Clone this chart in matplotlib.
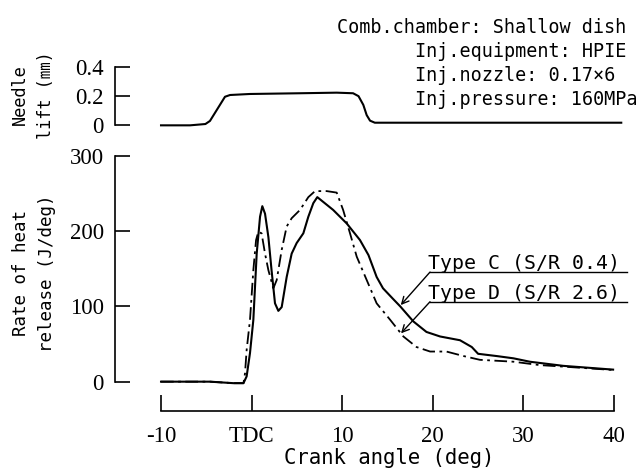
import matplotlib
matplotlib.use("Agg")
import matplotlib.pyplot as plt

# needle lift (mm) vs crank angle
lift_deg = [-10, -6.8, -5.1, -4.6, -3.85, -3.3, -2.94, -2.38, -0.18, 5.34, 9.39,
            11.2, 11.8, 12.33, 12.7, 13.07, 13.6, 16.4, 40.8]
lift_mm = [0, 0, 0.009, 0.03, 0.105, 0.16, 0.196, 0.208, 0.215, 0.22, 0.224,
           0.22, 0.20, 0.14, 0.07, 0.032, 0.018, 0.018, 0.018]

# rate of heat release, Type C (S/R 0.4), solid
rhr_c_deg = [-10, -4.6, -2.0, -0.9, -0.55, -0.18, 0.19, 0.56, 0.93, 1.18, 1.48, 1.85,
             2.2, 2.58, 2.95, 3.32, 3.87, 4.42, 4.97, 5.71, 6.26, 6.81, 7.25, 9.0,
             10.5, 11.96, 12.9, 13.8, 14.5, 15.6, 16.4, 17.85, 19.3, 20.8, 23.0,
             24.3, 25.0, 27.05, 28.9, 30.7, 34.4, 39.9]
rhr_c = [0, 0, -2, -2, 7, 38, 82, 170, 219, 233, 223, 192,
         148, 104, 94, 99, 139, 170, 184, 197, 219, 237, 245, 228,
         210, 188, 168, 139, 124, 110, 100, 80, 66, 60, 55,
         46, 37, 34, 31, 26.5, 21, 16]

# rate of heat release, Type D (S/R 2.6), dash-dot
rhr_d_deg = [-10, -4.6, -2.0, -0.9, -0.73, -0.55, -0.18, 0.19, 0.49, 0.74, 1.1, 1.48,
             1.85, 2.4, 2.77, 3.32, 3.87, 4.42, 5.34, 6.26, 7.0, 8.29, 9.39, 10.1,
             10.86, 11.6, 12.7, 13.8, 15.3, 16.75, 18.2, 19.7, 21.5, 23.4, 25.2,
             28.9, 31.8, 34.4, 39.9]
rhr_d = [0, 0, -2, -2, 11, 42, 82, 148, 188, 199, 197, 170,
         148, 124, 135, 175, 206, 217, 228, 245, 253, 253, 251, 228,
         197, 166, 135, 104, 82, 60, 46, 40, 40, 34, 29,
         26.5, 22, 20, 15.5]

x_ticks = [-10, 0, 10, 20, 30, 40]
x_labels = ["-10", "TDC", "10", "20", "30", "40"]
rhr_ticks = [0, 100, 200, 300]
lift_ticks = [0, 0.2, 0.4]
lift_labels = ["0", "0.2", "0.4"]

header = ["Comb.chamber: Shallow dish", "Inj.equipment: HPIE",
          "Inj.nozzle: 0.17×6", "Inj.pressure: 160MPa"]

W, H = 641, 470
mono = ["DejaVu Sans Mono", "Noto Sans CJK JP"]
serif = "Liberation Serif"

fig = plt.figure(figsize=(W / 100, H / 100), dpi=100)
renderer = fig.canvas.get_renderer()


def fit_width(t, target_px):
    # scale the font so the text spans the width
    w = t.get_window_extent(renderer).width
    t.set_fontsize(t.get_fontsize() * target_px / w)


def fit_height(t, target_px):
    h = t.get_window_extent(renderer).height
    t.set_fontsize(t.get_fontsize() * target_px / h)


def px_box(x0, x1, ytop, ybot):
    return [x0 / W, 1 - ybot / H, (x1 - x0) / W, (ybot - ytop) / H]


xlim = (-15.08, 41.5)

ax = fig.add_axes(px_box(115, 627.6, 155.7, 389.2))
ax.plot(rhr_c_deg, rhr_c, color="black", lw=1.5)
ax.plot(rhr_d_deg, rhr_d, color="black", lw=1.3, dashes=[7, 2.5, 1.5, 2.5])
ax.set_xlim(*xlim)
ax.set_ylim(-10, 300)
for s in ["top", "right"]:
    ax.spines[s].set_visible(False)
ax.spines["left"].set_bounds(0, 300)
ax.spines["bottom"].set_bounds(-10, 40)
ax.spines["bottom"].set_position(("outward", 15.7))
for s in ["left", "bottom"]:
    ax.spines[s].set_linewidth(1.2)
ax.set_yticks(rhr_ticks)
ax.set_xticks(x_ticks)
ax.set_xticklabels(x_labels)
ax.tick_params(axis="y", direction="in", length=11, width=1.2, pad=8,
               labelsize=16.5)
ax.tick_params(axis="x", direction="in", length=11.5, width=1.2, pad=11,
               labelsize=16.5)
for lab in ax.get_xticklabels() + ax.get_yticklabels():
    lab.set_family(serif)

# leader lines for the two curves
for txt, start, tip in [("Type C (S/R 0.4)", (19.69, 145.5), (16.46, 101.7)),
                        ("Type D (S/R 2.6)", (19.69, 106.1), (16.49, 64.2))]:
    ax.annotate("", xy=tip, xytext=start,
                arrowprops=dict(arrowstyle="->,head_length=0.5,head_width=0.25",
                                color="black", lw=1.0, shrinkA=0, shrinkB=0))
    ax.plot([start[0], 41.43], [start[1], start[1]], color="black", lw=1.0,
            clip_on=False)
    t = ax.text(19.47, start[1] + 4, txt, family=mono, fontsize=14,
                va="baseline", ha="left")
    fit_width(t, 192)

ax2 = fig.add_axes(px_box(115, 627.6, 60, 130))
ax2.plot(lift_deg, lift_mm, color="black", lw=1.5)
ax2.set_xlim(*xlim)
ax2.set_ylim(-0.032, 0.448)
for s in ["top", "right", "bottom"]:
    ax2.spines[s].set_visible(False)
ax2.spines["left"].set_bounds(0, 0.4)
ax2.spines["left"].set_linewidth(1.2)
ax2.set_xticks([])
ax2.set_yticks(lift_ticks)
ax2.set_yticklabels(lift_labels)
ax2.tick_params(axis="y", direction="in", length=11, width=1.2, pad=8,
                labelsize=16.5)
for lab in ax2.get_yticklabels():
    lab.set_family(serif)

# axis titles
t = fig.text(389 / W, 1 - 464 / H, "Crank angle (deg)", ha="center",
             va="baseline", family=mono, fontsize=14)
fit_width(t, 212)
t = fig.text(34 / W, 1 - 273 / H, "Rate of heat\nrelease (J/deg)", rotation=90,
             ha="center", va="center", multialignment="center", family=mono,
             fontsize=13, linespacing=1.6)
fit_height(t, 158)
t = fig.text(33 / W, 1 - 95 / H, "Needle\nlift (㎜)", rotation=90,
             ha="center", va="center", multialignment="center", family=mono,
             fontsize=13, linespacing=1.6)
fit_height(t, 88)

# header block
t = fig.text(626 / W, 1 - 33 / H, header[0], ha="right", va="baseline",
             family=mono, fontsize=13)
fit_width(t, 290)
size = t.get_fontsize()
for i, line in enumerate(header[1:]):
    fig.text(415 / W, 1 - (57 + 24 * i) / H, line, ha="left", va="baseline",
             family=mono, fontsize=size)

fig.savefig("out.png", dpi=100)
